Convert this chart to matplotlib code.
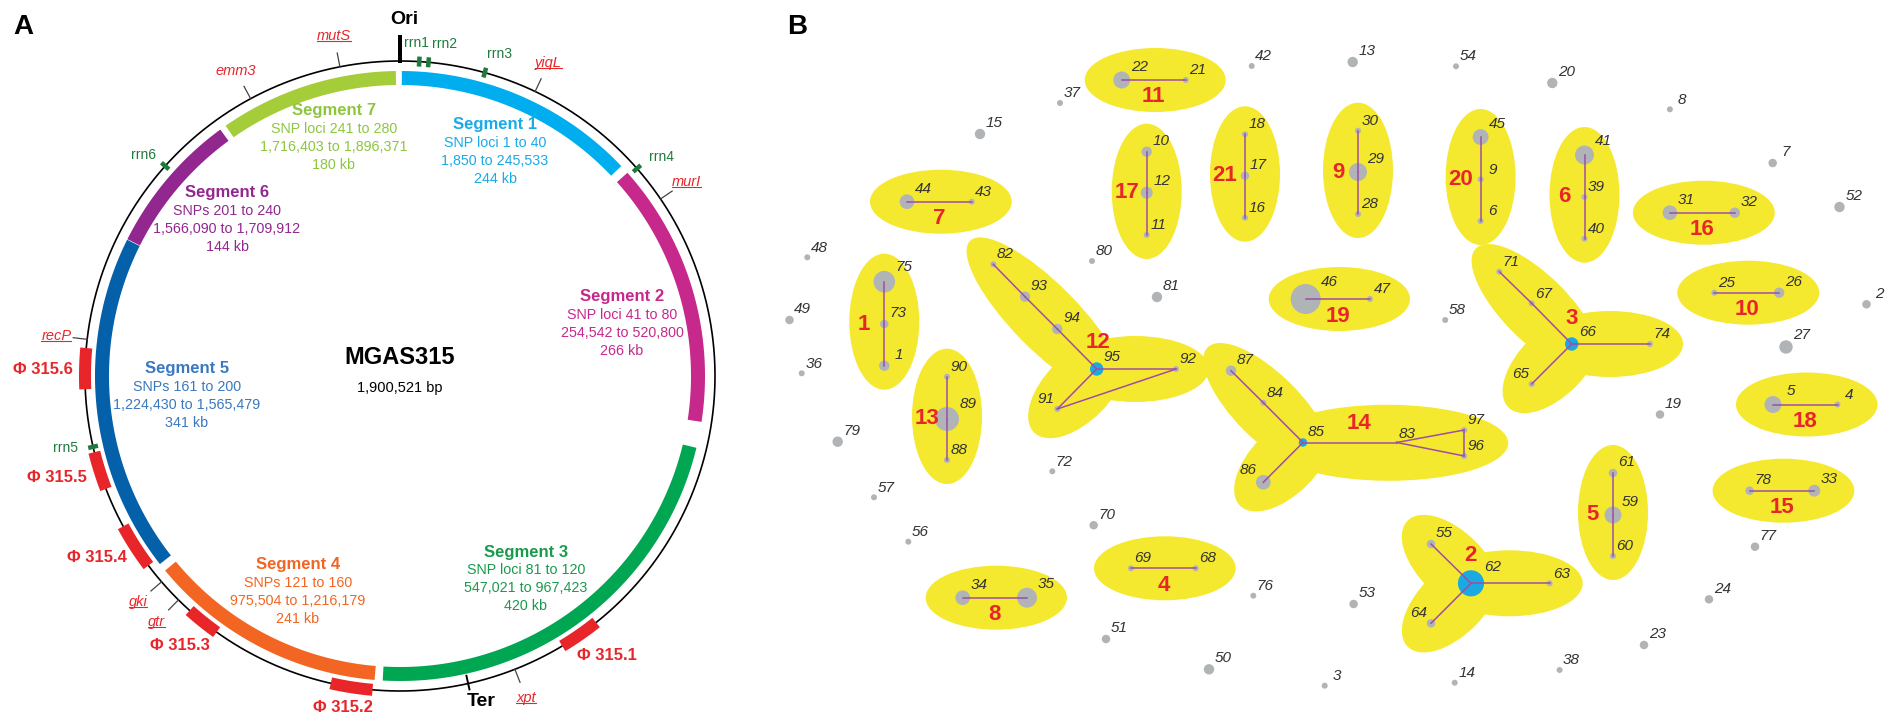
import numpy as np
import matplotlib.pyplot as plt
from matplotlib.patches import Polygon, Ellipse

plt.rcParams['font.family'] = ['Liberation Sans', 'DejaVu Sans']

W, H = 1893, 720

# ---------------- A: MGAS315 chromosome ----------------
genome_bp = 1900521
seg_start = [1850, 254542, 547021, 975504, 1224430, 1566090, 1716403]
seg_end = [245533, 520800, 967423, 1216179, 1565479, 1709912, 1896371]
seg_snp_first = [1, 41, 81, 121, 161, 201, 241]
seg_snp_last = [40, 80, 120, 160, 200, 240, 280]
seg_snp_word = ['SNP loci', 'SNP loci', 'SNP loci', 'SNPs', 'SNPs', 'SNPs', 'SNP loci']
seg_colors = ['#00AEEF', '#C7288C', '#00A651', '#F26522', '#0560AA', '#92278F', '#A5CD39']
seg_text_colors = ['#1AAAE6', '#C7288C', '#199A4C', '#F26522', '#3A78C0', '#92278F', '#8CC63F']

phage_names = ['Φ 315.1', 'Φ 315.2', 'Φ 315.3', 'Φ 315.4', 'Φ 315.5', 'Φ 315.6']
phage_start = [747000, 976700, 1138200, 1230100, 1314500, 1412700]
phage_end = [786600, 1017300, 1171400, 1274900, 1351500, 1452300]

rrn_names = ['rrn1', 'rrn2', 'rrn3', 'rrn4', 'rrn5', 'rrn6']
rrn_bp = [18500, 27400, 82400, 257600, 1356800, 1646100]

gene_names = ['mutS', 'emm3', 'yiqL', 'murI', 'recP', 'gki', 'gtr', 'xpt']
gene_bp = [1842450, 1751100, 134100, 294600, 1460700, 1210000, 1186200, 837300]
gene_underline = [True, False, True, True, True, True, True, True]

ori_bp = 0
ter_bp = 884300

# ---------------- B: haplotype network ----------------
node_n = {
    '75': 13, '73': 2, '1': 3, '90': 1, '89': 16, '88': 1, '44': 6, '43': 1,
    '22': 8, '21': 1, '10': 3, '12': 4, '11': 1, '18': 1, '17': 2, '16': 1,
    '30': 1, '29': 9, '28': 1, '45': 7, '9': 1, '6': 1, '41': 10, '39': 1,
    '40': 1, '31': 6, '32': 3, '25': 1, '26': 3, '5': 8, '4': 1, '78': 2,
    '33': 4, '61': 2, '59': 8, '60': 1, '46': 25, '47': 1, '69': 1, '68': 1,
    '34': 6, '35': 11, '82': 1, '93': 3, '94': 3, '95': 5, '92': 1, '91': 1,
    '71': 1, '67': 1, '66': 5, '74': 1, '65': 1, '87': 3, '84': 1, '85': 2,
    '86': 6, '83': 0.3, '97': 1, '96': 1, '55': 2, '62': 19, '63': 1, '64': 2,
    '13': 3, '42': 1, '37': 1, '15': 3, '54': 1, '20': 3, '8': 1, '7': 2,
    '52': 3, '2': 2, '27': 5, '58': 1, '80': 1, '81': 3, '48': 1, '49': 2,
    '36': 1, '79': 3, '57': 1, '72': 1, '70': 2, '56': 1, '51': 2, '50': 3,
    '76': 1, '53': 2, '3': 1, '14': 1, '38': 1, '23': 2, '24': 2, '77': 2,
    '19': 2,
}
hub_nodes = ['95', '66', '85', '62']

cluster_labels = [str(i) for i in range(1, 22)]
cluster_members = [
    ['75', '73', '1'], ['62', '55', '63', '64'], ['66', '71', '67', '74', '65'],
    ['69', '68'], ['61', '59', '60'], ['41', '39', '40'], ['44', '43'],
    ['34', '35'], ['30', '29', '28'], ['25', '26'], ['22', '21'],
    ['95', '82', '93', '94', '92', '91'], ['90', '89', '88'],
    ['85', '87', '84', '86', '83', '97', '96'], ['78', '33'], ['31', '32'],
    ['10', '12', '11'], ['5', '4'], ['46', '47'], ['45', '9', '6'],
    ['18', '17', '16'],
]
star_arms = {
    '2': [['55'], ['63'], ['64']],
    '3': [['71'], ['74'], ['65']],
    '12': [['82'], ['92'], ['91']],
    '14': [['87'], ['86'], ['97', '96']],
}

edges = [
    ('75', '73'), ('73', '1'), ('55', '62'), ('62', '63'), ('62', '64'),
    ('71', '67'), ('67', '66'), ('66', '74'), ('66', '65'), ('69', '68'),
    ('61', '59'), ('59', '60'), ('41', '39'), ('39', '40'), ('44', '43'),
    ('34', '35'), ('30', '29'), ('29', '28'), ('25', '26'), ('22', '21'),
    ('82', '93'), ('93', '94'), ('94', '95'), ('95', '92'), ('95', '91'),
    ('91', '92'), ('90', '89'), ('89', '88'), ('87', '84'), ('84', '85'),
    ('85', '86'), ('85', '83'), ('83', '97'), ('83', '96'), ('97', '96'),
    ('78', '33'), ('31', '32'), ('10', '12'), ('12', '11'), ('5', '4'),
    ('46', '47'), ('45', '9'), ('9', '6'), ('18', '17'), ('17', '16'),
]

# node layout of the network drawing (canvas pixels)
pos = {
    '1': (884.3, 365.7), '73': (884.3, 324), '75': (884.3, 281.7),
    '90': (947, 376.7), '89': (947, 419), '88': (947, 460),
    '44': (907, 201.7), '43': (971.7, 201.7),
    '22': (1121.7, 80), '21': (1185.7, 80),
    '10': (1146.7, 151.7), '12': (1146.7, 192.7), '11': (1146.7, 235),
    '18': (1245, 134.3), '17': (1245, 175.7), '16': (1245, 217.7),
    '30': (1358, 130.7), '29': (1358, 172), '28': (1358, 214),
    '45': (1480.6, 137), '9': (1480.6, 179.3), '6': (1480.6, 221),
    '41': (1584.5, 155), '39': (1584.5, 197), '40': (1584.5, 238.7),
    '31': (1669.9, 212.7), '32': (1734.8, 212.7),
    '25': (1714.3, 292.7), '26': (1779.2, 292.7),
    '5': (1773, 404.5), '4': (1837.5, 404.5),
    '78': (1749.6, 490.7), '33': (1814.3, 490.7),
    '61': (1613, 473), '59': (1613, 515), '60': (1613, 556),
    '46': (1305.7, 299), '47': (1370, 299),
    '69': (1131, 568.3), '68': (1195.7, 568.3),
    '34': (962.7, 597.7), '35': (1027, 597.7),
    '82': (993.3, 264.3), '93': (1025, 296.7), '94': (1057.3, 329),
    '95': (1096.7, 369), '92': (1176, 369), '91': (1057.3, 409),
    '71': (1499.3, 271.7), '67': (1531.7, 303.3), '66': (1571.7, 344),
    '74': (1650, 344), '65': (1531.7, 384),
    '87': (1231, 370.7), '84': (1263.3, 402.7), '85': (1303, 442.5),
    '86': (1263.3, 482.3), '83': (1396.9, 442.5), '97': (1464.2, 430),
    '96': (1464.2, 456),
    '55': (1431, 544), '62': (1471, 583.3), '63': (1549.7, 583.3),
    '64': (1431, 623.3),
    '13': (1352.7, 62), '42': (1251.7, 66), '37': (1060, 103), '15': (980, 134),
    '54': (1456, 66.3), '20': (1552.3, 83), '8': (1669.9, 109.3),
    '7': (1772.7, 163), '52': (1839.5, 207), '2': (1866.5, 304.3),
    '27': (1786, 347), '58': (1445.2, 320), '80': (1092, 261), '81': (1157, 297),
    '48': (807.3, 257.3), '49': (789.5, 320), '36': (801.7, 373.3),
    '79': (837.7, 441.7), '57': (874, 497.3), '72': (1052.3, 471.3),
    '70': (1093.7, 525.2), '56': (908.3, 541.7), '51': (1106, 639),
    '50': (1209, 669.3), '76': (1253.3, 595.7), '53': (1353.6, 604),
    '3': (1324.7, 685.7), '14': (1454.7, 682.7), '38': (1559.6, 670),
    '23': (1644, 645), '24': (1709, 599.3), '77': (1755, 546.7),
    '19': (1660, 414.5),
}

CX, CY, R_CHROM, R_SEG = 400, 376, 315, 298
YELLOW = '#F5E92F'
RED = '#E8262A'
GREEN = '#1E7B3C'


def xy(bp, r):
    a = np.radians(np.asarray(bp, dtype=float) / genome_bp * 360.0)
    return CX + r * np.sin(a), CY - r * np.cos(a)


def band(ax, bp0, bp1, r_in, r_out, color, z=2):
    t = np.linspace(bp0, bp1, 200)
    xo, yo = xy(t, r_out)
    xi, yi = xy(t[::-1], r_in)
    ax.add_patch(Polygon(np.column_stack([np.r_[xo, xi], np.r_[yo, yi]]),
                         closed=True, fc=color, ec='none', zorder=z))


def radial_tick(ax, bp, r0, r1, width, color, z=4):
    x0, y0 = xy(bp, r0)
    x1, y1 = xy(bp, r1)
    d = np.array([x1 - x0, y1 - y0])
    n = np.array([-d[1], d[0]]) / np.hypot(*d) * width / 2
    pts = [(x0 + n[0], y0 + n[1]), (x1 + n[0], y1 + n[1]),
           (x1 - n[0], y1 - n[1]), (x0 - n[0], y0 - n[1])]
    ax.add_patch(Polygon(pts, closed=True, fc=color, ec='none', zorder=z))


def blob(ax, p0, p1, back, front, width):
    p0, p1 = np.asarray(p0, float), np.asarray(p1, float)
    d = p1 - p0
    u = d / np.hypot(*d)
    a, b = p0 - u * back, p1 + u * front
    ang = np.degrees(np.arctan2(d[1], d[0]))
    ax.add_patch(Ellipse((a + b) / 2, np.hypot(*(b - a)), width, angle=ang,
                         fc=YELLOW, ec='none', zorder=1))


fig = plt.figure(figsize=(W / 100, H / 100), dpi=100)
ax = fig.add_axes([0, 0, 1, 1])
ax.set_xlim(0, W)
ax.set_ylim(H, 0)
ax.axis('off')

ax.text(23, 27, 'A', fontsize=20, fontweight='bold', ha='center', va='center')
ax.text(797, 27, 'B', fontsize=20, fontweight='bold', ha='center', va='center')

# chromosome ring
t = np.linspace(0, genome_bp, 1000)
ax.plot(*xy(t, R_CHROM), color='black', lw=1.2, zorder=3)

# SNP segments
seg_text_xy = [(495, 125), (622, 297), (526, 552), (298, 565),
               (187, 369), (227, 193), (334, 111)]
for i in range(len(seg_start)):
    band(ax, seg_start[i], seg_end[i], R_SEG - 7, R_SEG + 7, seg_colors[i])
    x, y = seg_text_xy[i]
    tc = seg_text_colors[i]
    ax.text(x, y, f'Segment {i + 1}', ha='center', va='center', fontsize=12,
            fontweight='bold', color=tc)
    lines = [f'{seg_snp_word[i]} {seg_snp_first[i]} to {seg_snp_last[i]}',
             f'{seg_start[i]:,} to {seg_end[i]:,}',
             f'{round((seg_end[i] - seg_start[i]) / 1000)} kb']
    for j, line in enumerate(lines):
        ax.text(x, y + 18 * (j + 1), line, ha='center', va='center',
                fontsize=10.3, color=tc)

# prophages
phage_text_xy = [(607, 655), (343, 708), (180, 645), (97, 557), (57, 477), (43, 370)]
for name, s, e, (x, y) in zip(phage_names, phage_start, phage_end, phage_text_xy):
    band(ax, s, e, R_CHROM - 6, R_CHROM + 6, '#E8262A', z=5)
    ax.text(x, y, name, ha='center', va='center', fontsize=12,
            fontweight='bold', color=RED)

# rRNA operons
rrn_text_xy = [(416, 43), (445, 44), (499, 54), (661, 157), (65, 448), (143, 155)]
for name, bp, (x, y) in zip(rrn_names, rrn_bp, rrn_text_xy):
    radial_tick(ax, bp, R_CHROM - 5, R_CHROM + 5, 4.5, GREEN)
    ax.text(x, y, name, ha='center', va='center', fontsize=10, color=GREEN)

# MLST genes
gene_texts = []
for name, bp, ul in zip(gene_names, gene_bp, gene_underline):
    ax.plot(*zip(xy(bp, R_CHROM), xy(bp, R_CHROM + 14)), color='#444444',
            lw=0.9, zorder=3)
    x, y = xy(bp, R_CHROM + 31)
    tx = ax.text(x, y, name, ha='center', va='center', fontsize=10.5,
                 style='italic', color=RED)
    if ul:
        gene_texts.append(tx)

# origin and terminus
radial_tick(ax, ori_bp, R_CHROM - 2, R_CHROM + 26, 4.5, 'black')
ax.text(404, 20, 'Ori', ha='center', va='center', fontsize=14, fontweight='bold')
ax.plot(*zip(xy(ter_bp, R_CHROM - 8), xy(ter_bp, R_CHROM + 6)), color='black',
        lw=1.4, zorder=4)
ax.text(481, 702, 'Ter', ha='center', va='center', fontsize=14, fontweight='bold')

ax.text(CX, 358, 'MGAS315', ha='center', va='center', fontsize=17, fontweight='bold')
ax.text(CX, 388, '1,900,521 bp', ha='center', va='center', fontsize=10.5)

# ---------------- network ----------------
def radius(n):
    return 3.0 * np.sqrt(n)


star_label_off = {'2': (-1, -28), '3': (0, -26), '12': (1, -27), '14': (56, -19)}
for lab, members in zip(cluster_labels, cluster_members):
    if lab in star_arms:
        hub = np.array(pos[members[0]])
        for arm in star_arms[lab]:
            end = np.mean([pos[m] for m in arm], axis=0)
            wide = len(arm) > 1
            blob(ax, hub, end, 35, 44 if wide else 33, 76 if wide else 66)
        lx, ly = hub + np.array(star_label_off[lab])
    else:
        p0, p1 = np.array(pos[members[0]]), np.array(pos[members[-1]])
        if len(members) == 2:
            blob(ax, p0, p1, 37, 40, 64)
            lx, ly = (p0[0] + p1[0]) / 2, p0[1] + 17
        else:
            blob(ax, p0, p1, 28, 24, 70)
            mid = pos[members[1]]
            lx, ly = mid[0] - 20, mid[1]
    ax.text(lx, ly, lab, ha='center', va='center', fontsize=16,
            fontweight='bold', color=RED, zorder=6)

for a, b in edges:
    (x0, y0), (x1, y1) = pos[a], pos[b]
    ax.plot([x0, x1], [y0, y1], color='#A04DA6', lw=1.1, zorder=4)

names = list(pos)
xs = [pos[k][0] for k in names]
ys = [pos[k][1] for k in names]
rs = [radius(node_n[k]) for k in names]
cols = ['#1BA9E1' if k in hub_nodes else '#B1B4B6' for k in names]
ax.scatter(xs, ys, s=[(2 * r * 0.72) ** 2 for r in rs], c=cols,
           edgecolors='none', zorder=3)

left_labels = {'86', '91', '65', '64'}
for k, x, y, r in zip(names, xs, ys, rs):
    dx = -(r + 8) if k in left_labels else r + 9
    ax.text(x + dx, y - (0.6 * r + 8), k, ha='center', va='center',
            fontsize=11, style='italic', color='#333333', zorder=6)

# underline the MLST gene names
fig.canvas.draw()
inv = ax.transData.inverted()
for tx in gene_texts:
    bb = tx.get_window_extent()
    (x0, y0), (x1, _) = inv.transform([(bb.x0, bb.y0 + 2), (bb.x1, bb.y0 + 2)])
    ax.plot([x0, x1], [y0, y0], color=RED, lw=0.8, zorder=4)

fig.savefig('out.png', dpi=100)
